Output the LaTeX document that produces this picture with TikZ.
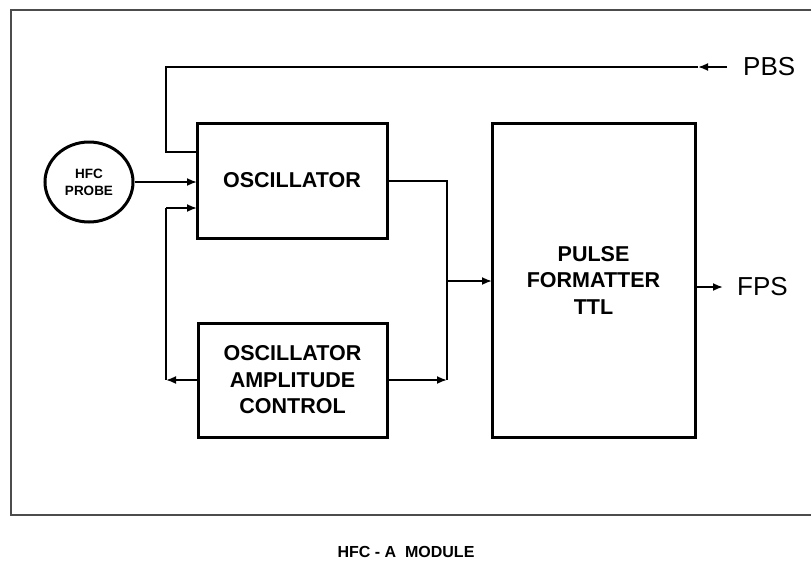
\documentclass[tikz,border=0pt]{standalone}
\usepackage{fontspec}
\setmainfont{Liberation Sans}
\usetikzlibrary{arrows.meta,shapes.geometric}
\begin{document}
\begin{tikzpicture}[x=1pt,y=-1pt,
  blk/.style={draw,line width=3pt,rectangle,inner sep=0pt,outer sep=0pt,align=center,
    font=\bfseries\fontsize{21.5}{26.5}\selectfont},
  wire/.style={line width=1.8pt},
  arr/.style={wire,-{Latex[length=10pt,width=8pt]}},
  lbl/.style={inner sep=0pt,font=\fontsize{26}{30}\selectfont},
  frame/.style={line width=1.3pt,black!70}]
\useasboundingbox (0,0) rectangle (811,568);
\draw[frame] (811,10) -- (11,10) -- (11,515) -- (811,515);

\node[blk,minimum width=190pt,minimum height=115pt] (osc) at (292,180.5) {OSCILLATOR};
\node[blk,minimum width=189pt,minimum height=114pt] (amp) at (292.5,380) {OSCILLATOR\\AMPLITUDE\\CONTROL};
\node[blk,minimum width=203pt,minimum height=314pt] (pulse) at (593.5,280) {PULSE\\FORMATTER\\TTL};
\node[ellipse,draw,line width=3pt,minimum width=88pt,minimum height=80pt,inner sep=0pt,align=center,
  font=\bfseries\fontsize{13.5}{17}\selectfont] (probe) at (89,182) {HFC\\PROBE};

\node[lbl,anchor=west] (pbs) at (743,67) {PBS};
\node[lbl,anchor=west] (fps) at (737,287) {FPS};
\node[inner sep=0pt,font=\bfseries\fontsize{16}{20}\selectfont] (cap) at (406,552) {HFC - A\ \ MODULE};

% PBS feedback
\coordinate (pbsA) at (727,67);
\coordinate (pbsB) at (698,67);
\coordinate (pbsC) at (166,67);
\coordinate (pbsD) at (166,152);
\draw[arr] (pbsA) -- (pbsB);
\draw[wire] (pbsB) -- (pbsC) -- (pbsD) -- (pbsD -| osc.west);

% probe to oscillator
\draw[arr] (probe.east |- 0,182) -- (osc.west |- 0,182);

% amplitude control loop
\coordinate (lb) at (166,380);
\coordinate (lt) at (166,208);
\draw[arr] (amp.west |- lb) -- (lb);
\draw[wire] (lb) -- (lt);
\draw[arr] (lt) -- (lt -| osc.west);

% outputs to pulse formatter
\coordinate (ro) at (447,181);
\coordinate (rm) at (447,281);
\coordinate (rb) at (447,380);
\draw[wire] (osc.east |- ro) -- (ro) -- (rm);
\draw[arr] (rm) -- (rm -| pulse.west);
\draw[arr] (amp.east |- rb) -- (rb);
\draw[wire] (rb) -- (rm);

% FPS
\coordinate (fo) at (723,287);
\draw[arr] (pulse.east |- fo) -- (fo);
\end{tikzpicture}
\end{document}
